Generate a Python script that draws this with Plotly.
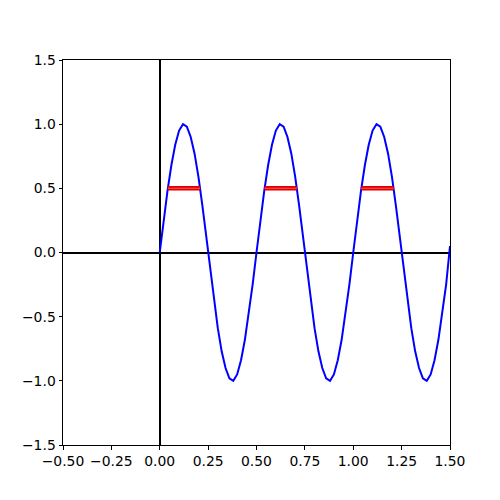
import plotly.graph_objects as go

# Sampled blue curve (x step 0.02 from 0 to 1.5)
x_vals = [round(i * 0.02, 2) for i in range(76)]
cycle = [0.0, 0.25, 0.48, 0.68, 0.84, 0.95, 1.00, 0.98, 0.90, 0.77, 0.59, 0.37, 0.13,
         -0.13, -0.37, -0.59, -0.77, -0.90, -0.98, -1.00, -0.95, -0.84, -0.68, -0.48, -0.25]
y_vals = cycle + cycle + cycle + [0.05]

# Red horizontal segments at y = 0.5
seg_start = [0.0417, 0.5417, 1.0417]
seg_end = [0.2083, 0.7083, 1.2083]
seg_level = 0.5

x_ticks = [-0.5, -0.25, 0.0, 0.25, 0.5, 0.75, 1.0, 1.25, 1.5]
y_ticks = [-1.5, -1.0, -0.5, 0.0, 0.5, 1.0, 1.5]

fig = go.Figure()
fig.add_trace(go.Scatter(x=x_vals, y=y_vals, mode="lines",
                         line=dict(color="#0000ff", width=2), showlegend=False,
                         hoverinfo="skip"))

seg_x, seg_y = [], []
for a, b in zip(seg_start, seg_end):
    seg_x += [a, b, None]
    seg_y += [seg_level, seg_level, None]
fig.add_trace(go.Scatter(x=seg_x, y=seg_y, mode="lines",
                         line=dict(color="#e00000", width=4.5), showlegend=False,
                         hoverinfo="skip"))
fig.add_trace(go.Scatter(x=seg_x, y=seg_y, mode="lines",
                         line=dict(color="#ff4040", width=1.2), showlegend=False,
                         hoverinfo="skip"))

axis_common = dict(showgrid=False, showline=True, linecolor="black", linewidth=1,
                   mirror=True, ticks="outside", ticklen=3.5, tickwidth=1,
                   tickcolor="black", zeroline=True, zerolinecolor="black",
                   zerolinewidth=2,
                   tickfont=dict(family="DejaVu Sans", size=13.9, color="black"))

fig.update_xaxes(range=[-0.5, 1.5], tickvals=x_ticks,
                 ticktext=[f"{v:.2f}".replace("-", "\u2212") for v in x_ticks],
                 **axis_common)
fig.update_yaxes(range=[-1.5, 1.5], tickvals=y_ticks,
                 ticktext=[f"{v:.1f}".replace("-", "\u2212") for v in y_ticks],
                 **axis_common)

fig.update_layout(width=500, height=500, margin=dict(l=62.5, r=50, t=60, b=55),
                  plot_bgcolor="white", paper_bgcolor="white")

fig.write_html("out.html", config={"displayModeBar": False},
               post_script="document.body.style.margin='0px';")
